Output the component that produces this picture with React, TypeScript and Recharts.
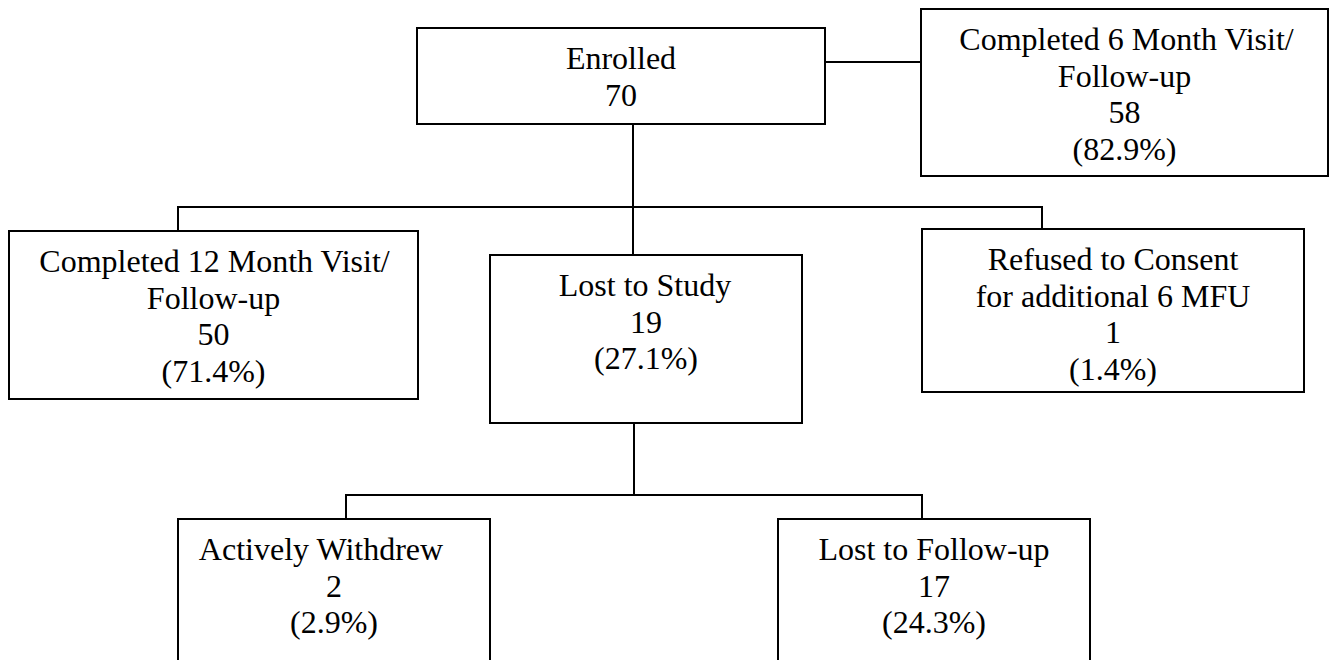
import {
  ScatterChart,
  Scatter,
  XAxis,
  YAxis,
  ReferenceArea,
  ReferenceLine,
} from "recharts";

// node content
const nodeTitles: string[][] = [
  ["Enrolled"],
  ["Completed 6 Month Visit/", "Follow-up"],
  ["Completed 12 Month Visit/", "Follow-up"],
  ["Lost to Study"],
  ["Refused to Consent", "for additional 6 MFU"],
  ["Actively Withdrew"],
  ["Lost to Follow-up"],
];
const nodeCounts = [70, 58, 50, 19, 1, 2, 17];
const nodePercents = ["", "82.9%", "71.4%", "27.1%", "1.4%", "2.9%", "24.3%"];

// layout in chart units: [x1, x2, y1, y2]
const boxes = [
  [417, 825, 28, 124],
  [921, 1328, 9, 176],
  [9, 418, 231, 399],
  [490, 802, 255, 423],
  [922, 1304, 229, 392],
  [178, 490, 519, 720],
  [778, 1090, 519, 720],
];
const titleShift = [0, 2, 1, -1, 0, -13, 0];

// connector polylines
const links = [
  [[825, 62], [921, 62]],
  [[633, 124], [633, 255]],
  [[178, 231], [178, 207], [1042, 207], [1042, 229]],
  [[634, 423], [634, 495]],
  [[346, 519], [346, 495], [922, 495], [922, 519]],
];

const W = 1334;
const H = 660;
const FONT = '"Liberation Serif", "Times New Roman", serif';
const LINE = 36.7;

const segments = links.flatMap((pts) =>
  pts.slice(1).map((p, k) => [pts[k], p])
);

const textPoints = boxes.map((b, i) => ({
  x: (b[0] + b[1]) / 2,
  y: b[2],
  i,
}));

function NodeText(props: any) {
  const { cx, cy, payload } = props;
  const i = payload.i;
  const lines: { t: string; dx: number }[] = nodeTitles[i].map((t, k) => ({
    t,
    dx: k === 0 ? titleShift[i] : 0,
  }));
  lines.push({ t: String(nodeCounts[i]), dx: 0 });
  if (nodePercents[i]) lines.push({ t: `(${nodePercents[i]})`, dx: 0 });
  return (
    <g>
      {lines.map((l, k) => (
        <text
          key={k}
          x={cx + l.dx}
          y={cy + 41 + k * LINE}
          textAnchor="middle"
          fontFamily={FONT}
          fontSize={32}
          fill="#000"
        >
          {l.t}
        </text>
      ))}
    </g>
  );
}

export default function App() {
  return (
    <div style={{ position: "fixed", left: 0, top: 0, background: "#fff" }}>
      <ScatterChart
        width={W}
        height={H}
        margin={{ top: 0, right: 0, bottom: 0, left: 0 }}
      >
        <XAxis type="number" dataKey="x" domain={[0, W]} hide allowDataOverflow />
        <YAxis
          type="number"
          dataKey="y"
          domain={[0, H]}
          reversed
          hide
          allowDataOverflow
        />
        {segments.map((s, k) => (
          <ReferenceLine
            key={`l-${k}`}
            segment={[
              { x: s[0][0], y: s[0][1] },
              { x: s[1][0], y: s[1][1] },
            ]}
            stroke="#000"
            strokeWidth={2}
            strokeLinecap="square"
            ifOverflow="visible"
          />
        ))}
        {boxes.map((b, k) => (
          <ReferenceArea
            key={`b-${k}`}
            x1={b[0]}
            x2={b[1]}
            y1={b[2]}
            y2={b[3]}
            fill="#fff"
            fillOpacity={1}
            stroke="#000"
            strokeWidth={2}
            ifOverflow="visible"
          />
        ))}
        <Scatter
          data={textPoints}
          shape={(p: any) => <NodeText {...p} />}
          isAnimationActive={false}
        />
      </ScatterChart>
    </div>
  );
}
